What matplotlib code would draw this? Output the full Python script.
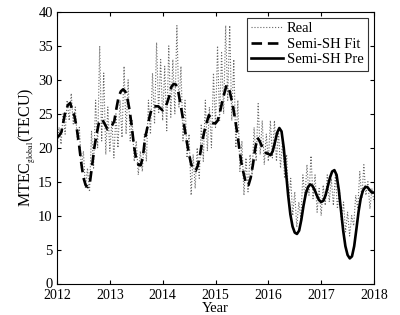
import numpy as np
import matplotlib
matplotlib.use("Agg")
import matplotlib.pyplot as plt

plt.rcParams['font.family'] = ['Liberation Serif', 'DejaVu Serif']
plt.rcParams['mathtext.fontset'] = 'stix'

# observed values, 26 samples per year (2012 .. 2018)
real_2012 = [20, 23, 20.5, 25, 22, 27, 24, 28, 23.5, 26, 21, 23, 17, 19.5, 14, 17, 13.5, 22.5, 17, 27, 20, 35, 21, 31, 19, 26]
real_2013 = [19.5, 24, 18.5, 25, 20, 27, 21.5, 32, 22, 30, 21, 24, 18, 21, 16, 19.5, 16.5, 22, 18, 27, 22, 31, 23.5, 35.5, 25, 33]
real_2014 = [24, 32, 22.5, 35, 24.5, 33, 25, 38, 26, 32, 21, 27, 18.5, 22, 13, 19, 14, 20, 15.5, 23.5, 18, 27, 19.5, 26, 20, 31]
real_2015 = [23, 35, 24, 34, 25, 38, 27, 38, 24, 33, 20, 27, 16.5, 21, 13, 18.5, 13.5, 19, 16, 23, 18, 26.5, 19, 24, 17.5, 22]
real_2016 = [18, 24, 18.5, 24, 18, 22.5, 17, 21, 15.5, 19, 12, 15.5, 10, 13.5, 8.3, 12, 9.5, 16, 12.5, 17.5, 13, 18.8, 12.5, 16, 10.5, 14]
real_2017 = [10, 14.5, 11.5, 16, 12, 15.5, 11.5, 16, 11, 14, 9, 12, 7.6, 10.5, 7, 10, 8.5, 13, 11, 16.5, 12.5, 17.5, 13, 15, 11, 14]
real_end = [12]

# Semi-SH fit, 24 samples per year, 2012.0 .. 2016.0
fit_vals = [21.5, 21.8, 22.3, 24.0, 25.6, 26.3, 26.6, 25.5, 24.6, 22.8, 20.5, 17.8,
            15.6, 14.5, 14.2, 15.0, 17.5, 20.1, 22.0, 23.6, 24.2, 23.9, 23.3, 22.7,
            22.9, 23.3, 23.9, 25.8, 27.5, 28.3, 28.6, 28.3, 27.2, 25.5, 23.0, 20.2,
            18.3, 17.5, 17.4, 18.6, 21.4, 22.9, 24.5, 25.7, 26.1, 26.1, 26.1, 25.8,
            25.5, 25.8, 26.6, 27.6, 29.0, 29.4, 29.3, 28.4, 26.6, 24.7, 22.8, 20.8,
            19.0, 17.5, 16.8, 16.6, 17.4, 19.0, 21.0, 22.5, 23.7, 24.8, 24.3, 23.6,
            23.6, 24.0, 25.2, 26.7, 28.0, 29.2, 28.9, 27.5, 26.0, 24.0, 21.9, 19.4,
            17.3, 15.9, 14.5, 14.5, 15.6, 17.5, 19.8, 21.5, 21.0, 20.3, 19.6, 19.2,
            19.1]

# Semi-SH prediction, 24 samples per year, 2016.0 .. 2018.0
pre_vals = [19.1, 18.9, 19.5, 20.8, 22.2, 22.9, 22.4, 20.0, 16.5, 13.0, 10.2, 8.4,
            7.5, 7.3, 7.8, 9.4, 11.5, 13.2, 14.2, 14.6, 14.4, 13.8, 13.0, 12.3,
            12.0, 12.2, 13.0, 14.3, 15.6, 16.5, 16.7, 16.0, 13.8, 10.8, 7.8, 5.5,
            4.2, 3.7, 4.0, 5.5, 8.0, 10.6, 12.6, 13.7, 14.2, 14.2, 13.8, 13.4,
            13.4]

real_vals = real_2012 + real_2013 + real_2014 + real_2015 + real_2016 + real_2017 + real_end
real_t = 2012 + np.arange(len(real_vals)) / 26.0
fit_t = 2012 + np.arange(len(fit_vals)) / 24.0
pre_t = 2016 + np.arange(len(pre_vals)) / 24.0

fig = plt.figure(figsize=(4.0, 3.15), dpi=100)
ax = fig.add_axes([0.1425, 0.1, 0.7925, 0.862])

ax.plot(real_t, real_vals, ':', color='#666666', lw=0.8, label='Real')
ax.plot(fit_t, fit_vals, '--', color='black', lw=1.9, dashes=(4, 2.2), label='Semi-SH Fit')
ax.plot(pre_t, pre_vals, '-', color='black', lw=1.9, label='Semi-SH Pre')

ax.set_xlim(2012, 2018)
ax.set_ylim(0, 40)
ax.set_xticks(range(2012, 2019))
ax.set_yticks(range(0, 41, 5))
ax.tick_params(direction='in', top=True, right=True, labelsize=10.5, length=3)
ax.tick_params(axis='x', pad=4, labelsize=10)
ax.tick_params(axis='y', pad=3)
ax.set_xlabel('Year', fontsize=10.5, labelpad=0)
ax.set_ylabel(r'MTEC$_{_{\rm global}}$(TECU)', fontsize=11.5, labelpad=-1)

leg = ax.legend(loc='upper right', fontsize=10.5, handlelength=2.2, borderpad=0.3,
                labelspacing=0.15, handletextpad=0.25, fancybox=False, framealpha=1,
                borderaxespad=0.4)
leg.get_frame().set_edgecolor('#333333')
leg.get_frame().set_linewidth(0.8)

fig.savefig('out.png', dpi=100)
